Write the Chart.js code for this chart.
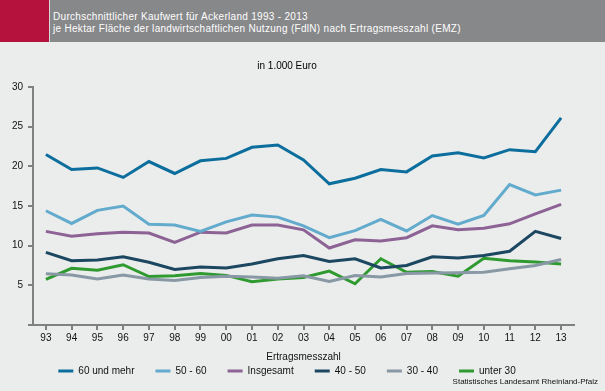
<!DOCTYPE html>
<html lang="de">
<head>
<meta charset="utf-8">
<title>Kaufwert Ackerland</title>
<script src="https://cdn.jsdelivr.net/npm/chart.js@4/dist/chart.umd.min.js"></script>
<style>
    html, body {
        margin: 0;
        padding: 0;
        width: 605px;
        height: 391px;
        overflow: hidden;
        background: #ebecec;
        font-family: "Liberation Sans", Arial, sans-serif;
    }
    #kopf {
        position: absolute;
        left: 0;
        top: 0;
        width: 605px;
        height: 42px;
        background: #87888a;
    }
    #kopfRot {
        position: absolute;
        left: 0;
        top: 0;
        width: 49px;
        height: 42px;
        background: #b5123e;
        border-right: 1px solid #d8d8d8;
    }
    #titel {
        position: absolute;
        left: 53px;
        top: 11px;
        color: #ffffff;
        font-size: 10px;
        line-height: 12px;
        letter-spacing: 0.3px;
        white-space: nowrap;
    }
    #zone {
        position: absolute;
        left: 0;
        top: 42px;
        width: 605px;
        height: 349px;
    }
    #quelle {
        position: absolute;
        right: 7px;
        top: 377px;
        font-size: 8px;
        color: #111111;
    }
</style>
</head>
<body>
<div id="kopf">
    <div id="kopfRot"></div>
    <div id="titel">Durchschnittlicher Kaufwert für Ackerland 1993 - 2013<br>je Hektar Fläche der landwirtschaftlichen Nutzung (FdlN) nach Ertragsmesszahl (EMZ)</div>
</div>
<div id="zone"><canvas id="graphique" width="605" height="349"></canvas></div>
<div id="quelle">Statistisches Landesamt Rheinland-Pfalz</div>
<script>
const jahre = ["93", "94", "95", "96", "97", "98", "99", "00", "01", "02", "03",
    "04", "05", "06", "07", "08", "09", "10", "11", "12", "13"];

const emz60undMehr = [21.5, 19.6, 19.8, 18.6, 20.6, 19.1, 20.7, 21.0, 22.4, 22.7, 20.8,
    17.8, 18.5, 19.6, 19.3, 21.3, 21.7, 21.05, 22.1, 21.85, 26.1];
const emz50bis60 = [14.4, 12.8, 14.45, 15.0, 12.7, 12.6, 11.8, 13.0, 13.85, 13.6, 12.5,
    11.0, 11.9, 13.3, 11.85, 13.8, 12.7, 13.8, 17.7, 16.4, 17.0];
const insgesamt = [11.8, 11.2, 11.5, 11.7, 11.6, 10.4, 11.7, 11.6, 12.6, 12.6, 12.0,
    9.7, 10.75, 10.6, 11.0, 12.5, 12.0, 12.2, 12.75, 14.0, 15.2];
const emz40bis50 = [9.15, 8.1, 8.2, 8.6, 7.9, 7.0, 7.3, 7.2, 7.7, 8.35, 8.75,
    8.0, 8.35, 7.2, 7.5, 8.6, 8.45, 8.75, 9.3, 11.8, 10.9];
const emz30bis40 = [6.45, 6.3, 5.8, 6.3, 5.8, 5.6, 6.0, 6.15, 6.05, 5.9, 6.2,
    5.5, 6.25, 6.05, 6.5, 6.55, 6.6, 6.65, 7.1, 7.5, 8.25];
const emzUnter30 = [5.75, 7.15, 6.9, 7.6, 6.1, 6.2, 6.5, 6.25, 5.45, 5.8, 6.0,
    6.8, 5.2, 8.35, 6.65, 6.75, 6.15, 8.4, 8.1, 7.95, 7.7];

const yTicks = [0, 5, 10, 15, 20, 25, 30];

const grau = "#808080";
const police = "'Liberation Sans', Arial, sans-serif";

function serie(label, data, couleur) {
    return {
        label: label,
        data: data,
        borderColor: couleur,
        backgroundColor: couleur,
        borderWidth: 3,
        pointRadius: 0,
        tension: 0
    };
}

const ctx = document.getElementById("graphique");
new Chart(ctx, {
    type: "line",
    data: {
        labels: jahre,
        datasets: [
            serie("60 und mehr", emz60undMehr, "#0b6e9d"),
            serie("50 - 60", emz50bis60, "#63abcd"),
            serie("Insgesamt", insgesamt, "#8c6394"),
            serie("40 - 50", emz40bis50, "#1b4761"),
            serie("30 - 40", emz30bis40, "#8898a5"),
            serie("unter 30", emzUnter30, "#2f9a30")
        ]
    },
    options: {
        responsive: false,
        animation: false,
        layout: {
            padding: { left: 0, right: 31, top: 0, bottom: 5 }
        },
        plugins: {
            title: {
                display: true,
                text: "in 1.000 Euro",
                color: "#000000",
                font: { family: police, size: 10, weight: "normal" },
                padding: { top: 18, bottom: 15 }
            },
            legend: {
                position: "bottom",
                labels: {
                    color: "#111111",
                    font: { family: police, size: 10 },
                    boxWidth: 15,
                    boxHeight: 3,
                    padding: 21,
                    generateLabels: function(chart) {
                        const items = Chart.defaults.plugins.legend.labels.generateLabels(chart);
                        items.forEach(function(item) {
                            item.fillStyle = item.strokeStyle;
                            item.lineWidth = 0;
                        });
                        return items;
                    }
                }
            },
            tooltip: { enabled: false }
        },
        scales: {
            x: {
                offset: true,
                afterFit: function(scale) {
                    scale.height = 20;
                },
                border: { color: grau, width: 2 },
                grid: {
                    drawOnChartArea: false,
                    color: grau,
                    lineWidth: 2,
                    tickLength: 5
                },
                ticks: {
                    color: "#111111",
                    font: { family: police, size: 10 },
                    padding: 2,
                    maxRotation: 0,
                    autoSkip: false
                },
                title: {
                    display: true,
                    text: "Ertragsmesszahl",
                    color: "#111111",
                    font: { family: police, size: 10 },
                    padding: { top: 0, bottom: -18 }
                }
            },
            y: {
                min: 0,
                max: 30,
                afterFit: function(scale) {
                    scale.width = 33;
                },
                afterBuildTicks: function(scale) {
                    scale.ticks = yTicks.map(function(v) { return { value: v }; });
                },
                border: { color: grau, width: 2 },
                grid: {
                    drawOnChartArea: false,
                    color: grau,
                    lineWidth: 2,
                    tickLength: 5
                },
                ticks: {
                    color: "#111111",
                    font: { family: police, size: 10 },
                    padding: 5,
                    callback: function(v) {
                        return v === 0 ? "" : v;
                    }
                }
            }
        }
    }
});
</script>
</body>
</html>
